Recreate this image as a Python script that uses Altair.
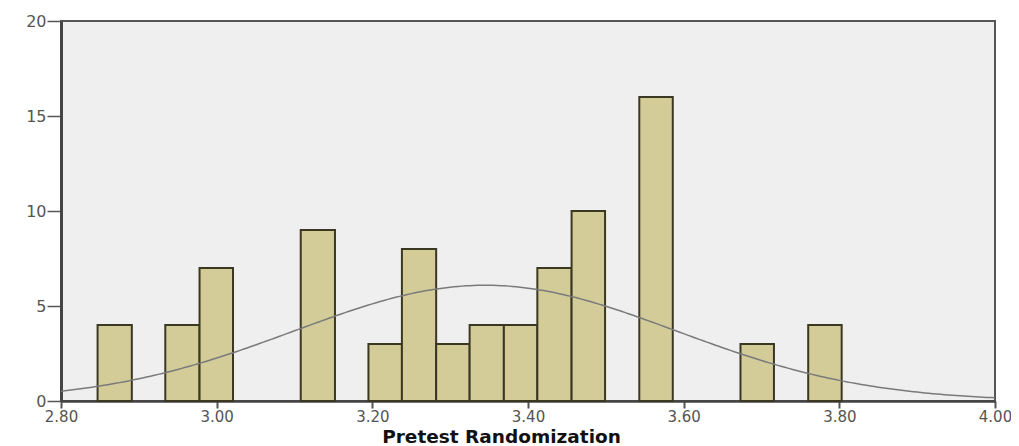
import altair as alt
import numpy as np
import pandas as pd

# Histogram bins (non-empty only)
bin_lo = [2.847, 2.934, 2.978, 3.108, 3.195, 3.238, 3.282, 3.325, 3.369, 3.412, 3.456, 3.543, 3.673, 3.760]
bin_hi = [2.891, 2.978, 3.021, 3.152, 3.238, 3.282, 3.325, 3.369, 3.412, 3.456, 3.499, 3.586, 3.716, 3.803]
counts = [4, 4, 7, 9, 3, 8, 3, 4, 4, 7, 10, 16, 3, 4]

x_ticks = [2.80, 3.00, 3.20, 3.40, 3.60, 3.80, 4.00]
y_ticks = [0, 5, 10, 15, 20]

# normal curve parameters
mean = 3.345
sd = 0.245
n_total = sum(counts)
bin_width = 0.0435

bars_df = pd.DataFrame({"lo": bin_lo, "hi": bin_hi, "count": counts})

xs = np.linspace(2.80, 4.00, 241)
ys = n_total * bin_width / (sd * np.sqrt(2 * np.pi)) * np.exp(-0.5 * ((xs - mean) / sd) ** 2)
curve_df = pd.DataFrame({"x": xs, "y": ys})

xscale = alt.Scale(domain=[2.80, 4.00], nice=False, zero=False)
yscale = alt.Scale(domain=[0, 20], nice=False)

xaxis = alt.Axis(
    values=x_ticks, format=".2f", title="Pretest Randomization",
    grid=False, domainColor="#444444", domainWidth=2.5, tickColor="#555555",
    tickSize=7, tickWidth=2, labelColor="#555555", labelFont="DejaVu Sans",
    labelFontSize=15, labelPadding=1, titleFont="DejaVu Sans", titleFontSize=18.5,
    titleFontWeight="bold", titleColor="#111111", titlePadding=3, titleX=440,
    labelFlush=False,
)
yaxis = alt.Axis(
    values=y_ticks, title=None, grid=False, domainColor="#444444", domainWidth=3,
    tickColor="#555555", tickSize=14, tickWidth=1.5, labelColor="#555555",
    labelFont="DejaVu Sans", labelFontSize=16, labelPadding=1,
)

bars = alt.Chart(bars_df).mark_rect(
    fill="#d3cc99", stroke="#3b3822", strokeWidth=2
).encode(
    x=alt.X("lo:Q", scale=xscale, axis=xaxis),
    x2="hi:Q",
    y=alt.Y("count:Q", scale=yscale, axis=yaxis),
    y2=alt.datum(0),
)

curve = alt.Chart(curve_df).mark_line(color="#7a7a7a", strokeWidth=1.5).encode(
    x=alt.X("x:Q", scale=xscale),
    y=alt.Y("y:Q", scale=yscale),
)

chart = alt.layer(bars, curve).properties(
    width=934, height=380,
    background="white",
    autosize=alt.AutoSizeParams(type="none"),
    padding={"left": 53, "top": 13, "right": 16, "bottom": 44},
).configure_view(
    fill="#efefef", stroke="#555555", strokeWidth=2
)

chart.save("out.html", embed_options={"renderer": "svg", "actions": False})
